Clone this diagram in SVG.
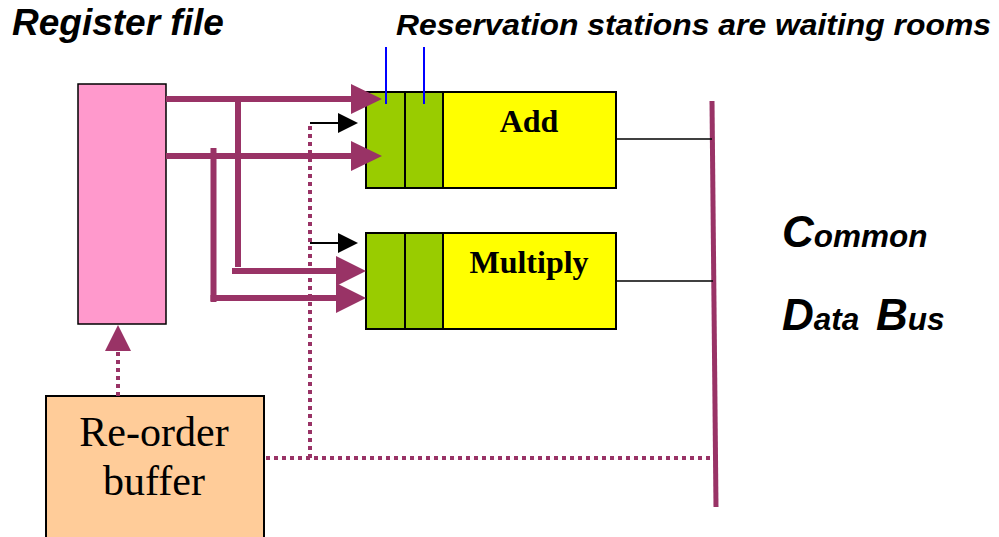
<svg xmlns="http://www.w3.org/2000/svg" width="999" height="537" viewBox="0 0 999 537">
<style>
.title{font-family:"Liberation Sans",Arial,sans-serif;font-weight:bold;font-style:italic;fill:#000}
.unit{font-family:"Liberation Serif","Times New Roman",serif;font-weight:bold;font-size:32px;fill:#000;text-anchor:middle}
.rob{font-family:"Liberation Serif","Times New Roman",serif;font-size:42px;fill:#000;text-anchor:middle}
.bus{stroke:#993366;stroke-width:6;fill:none}
.dot{stroke:#993366;stroke-width:4;stroke-dasharray:4 4;fill:none}
.thin{stroke:#000;stroke-width:1.5;fill:none}
.rs{fill:#99cc00;stroke:#000;stroke-width:2}
.fu{fill:#ffff00;stroke:#000;stroke-width:2}
</style>
<defs>
<marker id="pa" markerUnits="userSpaceOnUse" markerWidth="32" markerHeight="30" refX="0" refY="15" orient="auto" overflow="visible">
<path d="M0,0 L31,15 L0,30 z" fill="#993366"/>
</marker>
<marker id="pa2" markerUnits="userSpaceOnUse" markerWidth="30" markerHeight="30" refX="0" refY="15" orient="auto" overflow="visible">
<path d="M0,0 L30,15 L0,30 z" fill="#993366"/>
</marker>
<marker id="pu" markerUnits="userSpaceOnUse" markerWidth="26" markerHeight="26" refX="0" refY="13" orient="auto" overflow="visible">
<path d="M0,0 L26,13 L0,26 z" fill="#993366"/>
</marker>
<marker id="ba" markerUnits="userSpaceOnUse" markerWidth="20" markerHeight="20" refX="0" refY="10" orient="auto" overflow="visible">
<path d="M0,0 L20,10 L0,20 z" fill="#000"/>
</marker>
</defs>

<text class="title" x="12" y="35" font-size="37">Register file</text>
<text class="title" x="396" y="35" font-size="30" textLength="595" lengthAdjust="spacingAndGlyphs">Reservation stations are waiting rooms</text>

<g id="register-file">
<rect x="78" y="84" width="88" height="240" fill="#ff99cc" stroke="#000" stroke-width="1.5"/>
</g>

<g id="add-rs">
<rect class="fu" x="366" y="92" width="250" height="96"/>
<rect class="rs" x="366" y="92" width="39" height="96"/>
<rect class="rs" x="405" y="92" width="38" height="96"/>
<text class="unit" x="529" y="132">Add</text>
</g>

<g id="multiply-rs">
<rect class="fu" x="366" y="233" width="250" height="96"/>
<rect class="rs" x="366" y="233" width="39" height="96"/>
<rect class="rs" x="405" y="233" width="38" height="96"/>
<text class="unit" x="529" y="273">Multiply</text>
</g>

<g id="reorder-buffer">
<rect x="46" y="396" width="218" height="150" fill="#ffcc99" stroke="#000" stroke-width="2"/>
<text class="rob" x="154" y="446">Re-order</text>
<text class="rob" x="154" y="495">buffer</text>
</g>

<g id="common-data-bus">
<line x1="712" y1="101" x2="716" y2="507" stroke="#993366" stroke-width="5"/>
<text class="title" x="782" y="247"><tspan font-size="44">C</tspan><tspan font-size="31.5">ommon</tspan></text>
<text class="title" x="782" y="330"><tspan font-size="44">D</tspan><tspan font-size="31.5">ata </tspan><tspan font-size="44" dx="8">B</tspan><tspan font-size="31.5">us</tspan></text>
</g>

<g id="connectors">
<line class="bus" x1="166" y1="99" x2="351" y2="99" marker-end="url(#pa)"/>
<line class="bus" x1="166" y1="156" x2="351" y2="156" marker-end="url(#pa)"/>
<line class="bus" x1="238" y1="96" x2="238" y2="267"/>
<line class="bus" x1="232" y1="271" x2="336" y2="271" marker-end="url(#pa2)"/>
<line class="bus" x1="213.5" y1="148" x2="213.5" y2="302"/>
<line class="bus" x1="210.5" y1="298" x2="336" y2="298" marker-end="url(#pa2)"/>
<line class="dot" x1="118" y1="396" x2="118" y2="351" marker-end="url(#pu)"/>
<polyline class="dot" points="266,458 712,458"/>
<polyline class="dot" points="310,458 310,123"/>
<line x1="310" y1="123" x2="338" y2="123" stroke="#000" stroke-width="2" marker-end="url(#ba)"/>
<line x1="310" y1="243" x2="338" y2="243" stroke="#000" stroke-width="2" marker-end="url(#ba)"/>
<line class="thin" x1="616" y1="139" x2="712" y2="139"/>
<line class="thin" x1="616" y1="281" x2="713" y2="281"/>
<line x1="386" y1="47" x2="386" y2="104" stroke="#0000ff" stroke-width="2"/>
<line x1="424" y1="47" x2="424" y2="104" stroke="#0000ff" stroke-width="2"/>
</g>
</svg>
